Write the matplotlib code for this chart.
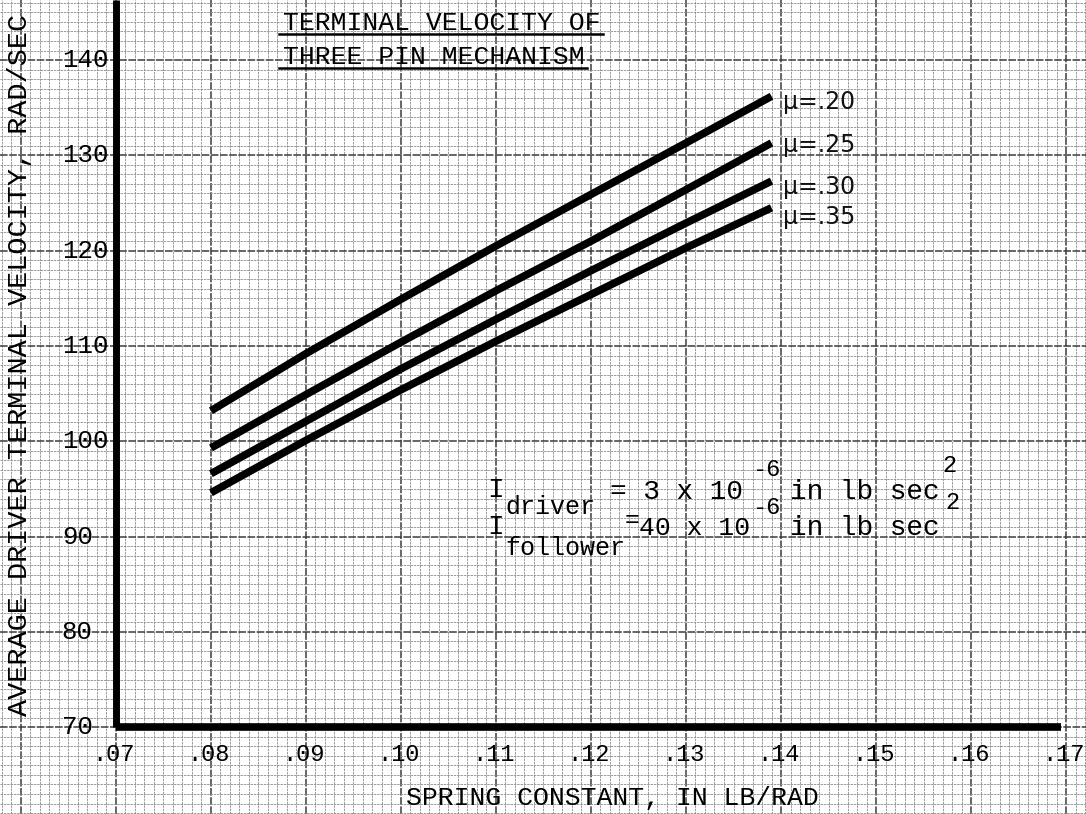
"""Terminal velocity of three pin mechanism, drawn on graph paper."""
import matplotlib
matplotlib.use("Agg")
import matplotlib.pyplot as plt
from matplotlib.lines import Line2D
from matplotlib.ticker import MultipleLocator
from matplotlib.transforms import IdentityTransform

MONO = "Liberation Mono"

# data
spring_k = [0.080, 0.090, 0.100, 0.110, 0.120, 0.130, 0.139]
vel_mu20 = [103.2, 109.2, 114.9, 120.5, 125.9, 131.3, 136.2]
vel_mu25 = [99.3, 104.9, 110.4, 115.8, 121.0, 126.4, 131.3]
vel_mu30 = [96.6, 102.1, 107.6, 112.8, 117.9, 122.9, 127.3]
vel_mu35 = [94.6, 100.1, 105.4, 110.5, 115.4, 120.3, 124.5]
mu_labels = ["μ=.20", "μ=.25", "μ=.30", "μ=.35"]

x_ticks = [0.07, 0.08, 0.09, 0.10, 0.11, 0.12, 0.13, 0.14, 0.15, 0.16, 0.17]
x_tick_labels = [".07", ".08", ".09", ".10", ".11", ".12", ".13", ".14",
                 ".15", ".16", ".17"]
y_ticks = [70, 80, 90, 100, 110, 120, 130, 140]

# the sheet of graph paper: axes fill the whole figure
X0, X1 = 0.0578, 0.1721
Y0, Y1 = 60.9, 146.3
X_ORIGIN, Y_ORIGIN = 0.07, 70

fig = plt.figure(figsize=(10.86, 8.14), dpi=100)
ax = fig.add_axes([0, 0, 1, 1])
ax.set_xlim(X0, X1)
ax.set_ylim(Y0, Y1)
for s in ax.spines.values():
    s.set_visible(False)
ax.xaxis.set_major_locator(MultipleLocator(0.01))
ax.xaxis.set_minor_locator(MultipleLocator(0.001))
ax.yaxis.set_major_locator(MultipleLocator(10))
ax.yaxis.set_minor_locator(MultipleLocator(1))
ax.tick_params(which="both", length=0, labelbottom=False, labelleft=False)
ax.set_axisbelow(True)
ax.grid(which="minor", color="#8c8c8c", lw=0.6, ls=(0, (3, 1)))
ax.grid(which="major", color="#3c3c3c", lw=1.1, ls=(0, (5, 1)))

# heavy hand-drawn axes
ax.axvline(X_ORIGIN, ymin=(Y_ORIGIN - Y0) / (Y1 - Y0), ymax=1,
           color="black", lw=5, solid_capstyle="butt")
ax.axhline(Y_ORIGIN, xmin=(X_ORIGIN - X0) / (X1 - X0),
           xmax=(0.1695 - X0) / (X1 - X0),
           color="black", lw=5.5, solid_capstyle="butt")

for vals in [vel_mu20, vel_mu25, vel_mu30, vel_mu35]:
    ax.plot(spring_k, vals, color="black", lw=5.5, solid_capstyle="butt",
            solid_joinstyle="round")

mu_label_y = [135.6, 131.1, 126.7, 123.5]
for lab, y in zip(mu_labels, mu_label_y):
    ax.text(0.1402, y, lab, fontsize=17, family="DejaVu Sans",
            ha="left", va="center", color="#111")

# tick labels, typed on the sheet
for x, lab in zip(x_ticks, x_tick_labels):
    ax.text(x - 0.0003, 67.1, lab, fontsize=17, family=MONO,
            ha="center", va="center")
for y in y_ticks:
    ax.text(0.0643, y, str(y), fontsize=18.5, family=MONO,
            ha="left", va="center")

ax.text(0.1222, 62.6, "SPRING CONSTANT, IN LB/RAD", fontsize=19,
        family=MONO, ha="center", va="center")
ax.text(0.0599, 108.0, "AVERAGE DRIVER TERMINAL VELOCITY, RAD/SEC",
        fontsize=20.5, family=MONO, rotation=90, ha="center", va="center")

t1 = ax.text(0.0876, 143.9, "TERMINAL VELOCITY OF", fontsize=19,
             family=MONO, ha="left", va="center")
t2 = ax.text(0.0876, 140.3, "THREE PIN MECHANISM", fontsize=19,
             family=MONO, ha="left", va="center")

# moments of inertia note
note = dict(family=MONO, va="center", ha="left")
ax.text(0.10905, 94.9, "I", fontsize=20, **note)
ax.text(0.11095, 93.1, "driver", fontsize=18, **note)
ax.text(0.12200, 94.7, "= 3 x 10", fontsize=20, **note)
ax.text(0.13695, 97.0, "-6", fontsize=17, **note)
ax.text(0.14095, 94.7, "in lb sec", fontsize=20, **note)
ax.text(0.15695, 97.5, "2", fontsize=17, **note)

ax.text(0.10905, 91.0, "I", fontsize=20, **note)
ax.text(0.11095, 88.8, "follower", fontsize=18, **note)
ax.text(0.12350, 91.7, "=", fontsize=18, **note)
ax.text(0.12510, 90.9, "40 x 10", fontsize=19, **note)
ax.text(0.13695, 93.1, "-6", fontsize=17, **note)
ax.text(0.14095, 90.9, "in lb sec", fontsize=20, **note)
ax.text(0.15725, 93.6, "2", fontsize=17, **note)

# underline the title lines
fig.canvas.draw()
r = fig.canvas.get_renderer()
for t in (t1, t2):
    bb = t.get_window_extent(r)
    fig.add_artist(Line2D([bb.x0 - 4, bb.x1 + 2], [bb.y0 + 1, bb.y0 + 1],
                          transform=IdentityTransform(), color="black",
                          lw=1.8))

fig.savefig("out.png", dpi=100, facecolor="white")
plt.close(fig)
